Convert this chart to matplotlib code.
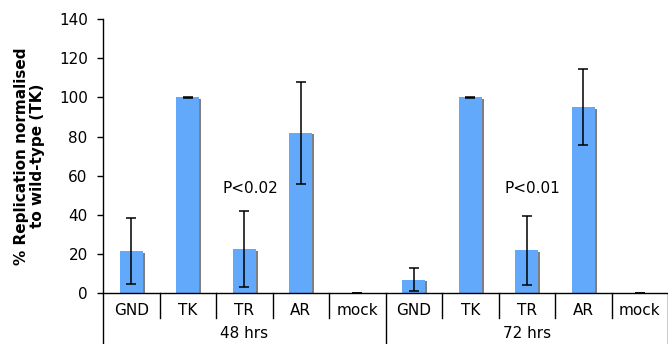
import matplotlib.pyplot as plt
import matplotlib.transforms as mtransforms
import numpy as np

# data
groups = ['48 hrs', '72 hrs']
labels = ['GND', 'TK', 'TR', 'AR', 'mock']
values_48 = [21.5, 100, 22.5, 82, 0]
errors_48 = [16.7, 0.3, 19.5, 26, 0]
values_72 = [7, 100, 22, 95, 0]
errors_72 = [5.7, 0.3, 17.7, 19.5, 0]
pvalues = ['P<0.02', 'P<0.01']

values = values_48 + values_72
errors = errors_48 + errors_72
cats = labels * 2
x = np.arange(len(values)) + 0.5
fs = 11

plt.rcParams['font.family'] = 'DejaVu Sans'
fig = plt.figure(figsize=(6.68, 3.44), dpi=100)
ax = fig.add_axes([103 / 668, 50.7 / 344, 1 - 103 / 668, 274.3 / 344])

# shadow bars, shifted a couple of pixels right and down
shadow = mtransforms.offset_copy(ax.transData, fig=fig, x=2, y=-1.5, units='dots')
ax.bar(x, values, width=0.41, color='#7f7f7f', transform=shadow, zorder=1)
ax.bar(x, values, width=0.41, color='#62a8fb', zorder=2)
ax.errorbar(x, values, yerr=errors, fmt='none', ecolor='black',
            elinewidth=1.1, capsize=3.5, capthick=1.1, zorder=3)

ax.text(2.5 + 0.1, 53.7, pvalues[0], ha='center', va='center', fontsize=fs)
ax.text(7.5 + 0.1, 53.7, pvalues[1], ha='center', va='center', fontsize=fs)

ax.set_xlim(0, 10)
ax.set_ylim(0, 140)
ax.set_yticks(range(0, 141, 20))
ax.tick_params(axis='y', labelsize=fs, length=4, width=1, pad=7)
ax.set_xticks([])
for s in ['top', 'right']:
    ax.spines[s].set_visible(False)
ax.spines['left'].set_linewidth(1)
ax.spines['bottom'].set_linewidth(1)

ax.set_ylabel('% Replication normalised\nto wild-type (TK)', fontsize=fs,
              fontweight='bold', linespacing=1.05)
ax.yaxis.set_label_coords(-0.103, 0.5)

# category labels and separators below the axis
trans = ax.get_xaxis_transform()
for i, c in enumerate(cats):
    ax.text(x[i], -0.062, c, transform=trans, ha='center', va='center',
            fontsize=fs, clip_on=False)
for b in range(1, 10):
    if b == 5:
        continue
    ax.plot([b, b], [0, -0.09], transform=trans, color='black', lw=1, clip_on=False)
for b in [0, 5, 10]:
    ax.plot([b, b], [0, -0.19], transform=trans, color='black', lw=1, clip_on=False)
for g, name in enumerate(groups):
    ax.text(2.5 + 5 * g, -0.145, name, transform=trans, ha='center', va='center',
            fontsize=fs, clip_on=False)

fig.savefig('out.png', dpi=100)
